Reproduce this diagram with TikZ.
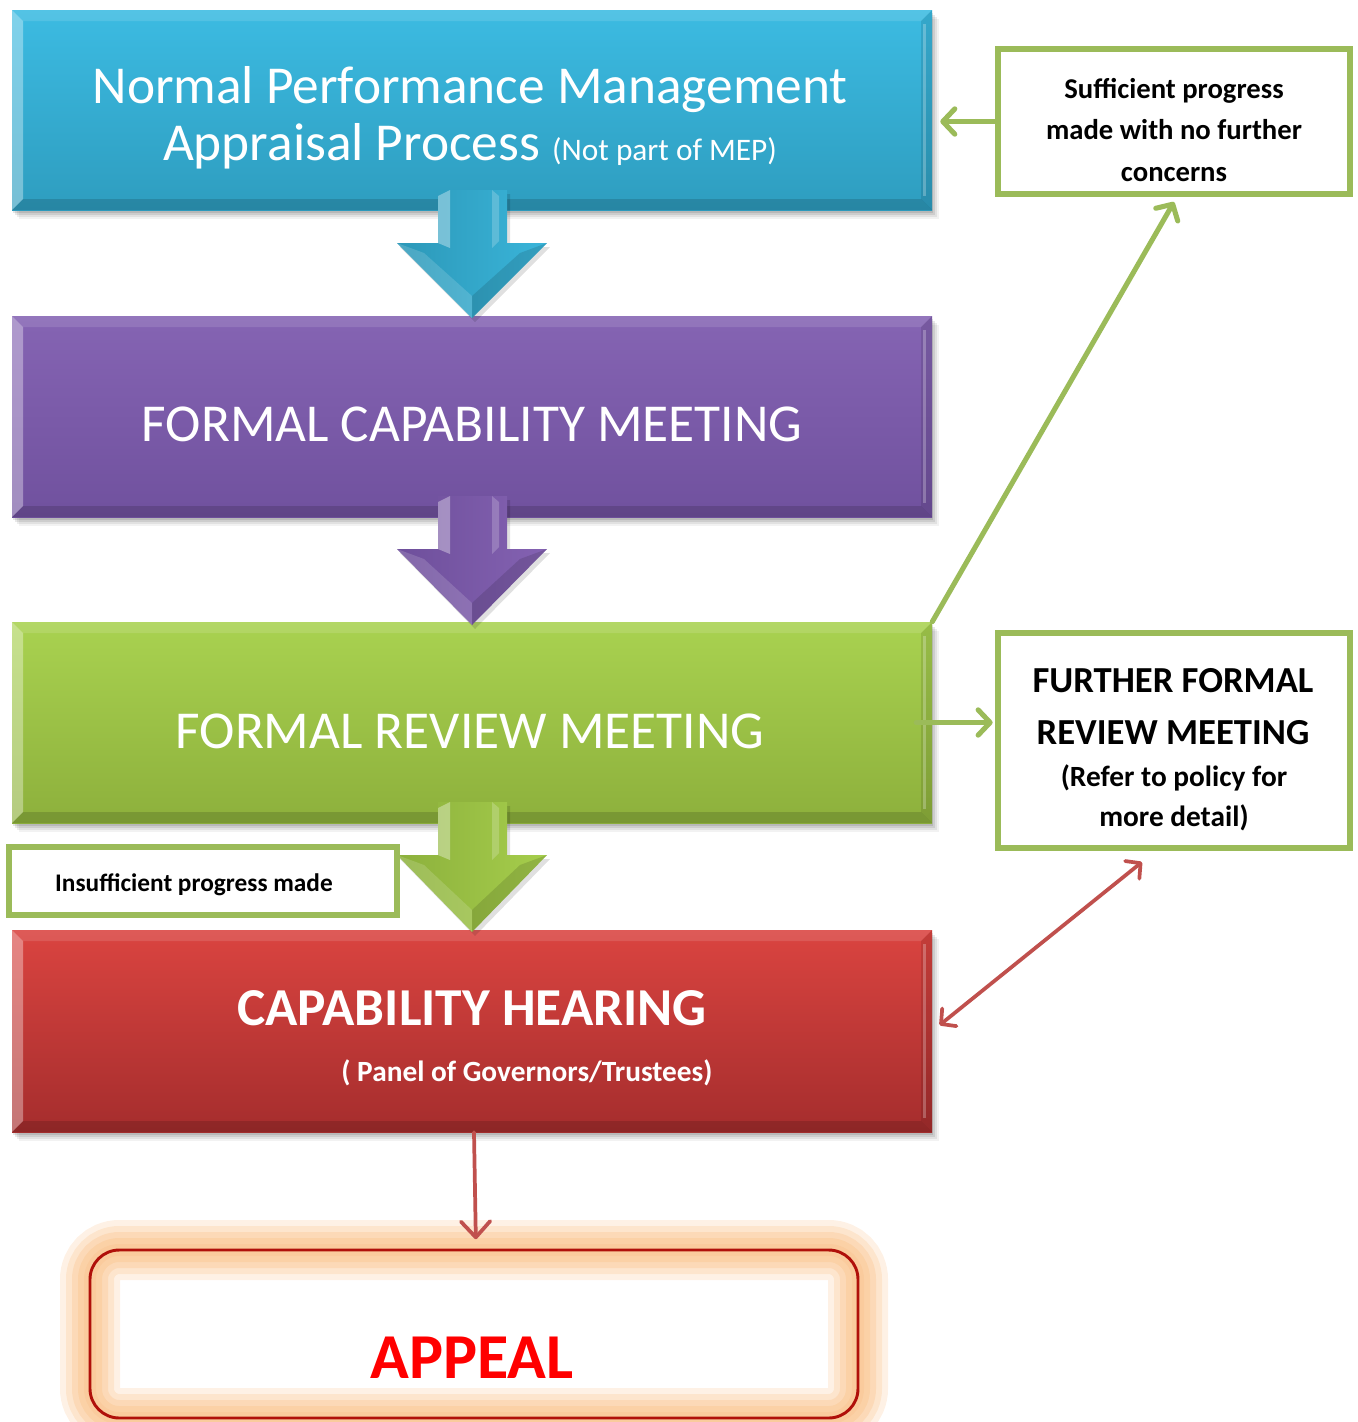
\documentclass[tikz,border=0pt]{standalone}
\usepackage{fontspec}
\setmainfont{Carlito}
\usetikzlibrary{arrows.meta,fit,calc}
\definecolor{gbord}{HTML}{9BBB59}
\definecolor{rarr}{HTML}{C0504D}
\definecolor{glow}{HTML}{FAC896}
\definecolor{bluetop}{HTML}{3CBBE2}
\definecolor{bluebot}{HTML}{2E9DBF}
\definecolor{purtop}{HTML}{8564B3}
\definecolor{purbot}{HTML}{70519E}
\definecolor{grntop}{HTML}{A9D250}
\definecolor{grnbot}{HTML}{8DB03C}
\definecolor{redtop}{HTML}{DA4440}
\definecolor{redbot}{HTML}{A52D2D}
\definecolor{bluea}{HTML}{2C98B8}
\definecolor{blueb}{HTML}{3AB5DA}
\definecolor{pura}{HTML}{6E4F9B}
\definecolor{purb}{HTML}{8462B2}
\definecolor{grna}{HTML}{8CB03C}
\definecolor{grnb}{HTML}{A6CE4C}
\definecolor{appborder}{HTML}{B0100A}
\newcommand\bvbox[6]{%
  \foreach \s/\o in {9/0.05,7/0.07,5/0.09,3/0.1}{\fill[black,opacity=\o] (#1+\s-2,#2+\s) rectangle (#3+\s-2,#4+\s);}
  \shade[top color=#5,bottom color=#6] (#1,#2) rectangle (#3,#4);
  \fill[white,opacity=0.35] (#1,#2) -- (#1+11,#2+11) -- (#1+11,#4-11) -- (#1,#4) -- cycle;
  \fill[white,opacity=0.12] (#1,#2) -- (#3,#2) -- (#3-11,#2+11) -- (#1+11,#2+11) -- cycle;
  \fill[black,opacity=0.10] (#3,#2) -- (#3,#4) -- (#3-11,#4-11) -- (#3-11,#2+11) -- cycle;
  \fill[white,opacity=0.25] (#3-9,#2+14) rectangle (#3-6,#4-14);
  \fill[black,opacity=0.14] (#1,#4) -- (#3,#4) -- (#3-11,#4-11) -- (#1+11,#4-11) -- cycle;
}
\newcommand\bkarrow[5]{% ytop yhead ytip colA colB
  \fill[black,opacity=0.12] (438+3,#1+4) -- (507+3,#1+4) -- (507+3,#2+4) -- (547+3,#2+4) -- (472+3,#3+4) -- (397+3,#2+4) -- (438+3,#2+4) -- cycle;
  \shade[left color=#4,right color=#5] (438,#1) -- (507,#1) -- (507,#2) -- (547,#2) -- (472,#3) -- (397,#2) -- (438,#2) -- cycle;
  \fill[white,opacity=0.35] (438,#1+6) -- (450,#1) -- (450,#2+5) -- (438,#2) -- cycle;
  \fill[white,opacity=0.2] (492,#1) -- (499,#1+6) -- (499,#2-2) -- (492,#2+5) -- cycle;
  \fill[black,opacity=0.12] (472,#3) -- (472,#3-22) -- (520,#2+10) -- (547,#2) -- cycle;
  \fill[white,opacity=0.15] (472,#3) -- (472,#3-22) -- (424,#2+10) -- (397,#2) -- cycle;
}
\begin{document}
\begin{tikzpicture}[x=0.75pt,y=-0.75pt,
  sidebox/.style={draw=gbord,line width=4pt,fill=white,inner sep=0pt},
  gline/.style={draw=gbord,line width=3.8pt,line cap=round,-{Straight Barb[length=9pt,width=19pt,round]}},
  rline/.style={draw=rarr,line width=2.8pt,line cap=round},
  boxtxt/.style={text=white,align=center,font=\fontsize{40}{43}\selectfont}]
\useasboundingbox (0,0) rectangle (1358,1422);
\clip (0,0) rectangle (1358,1422);
% main boxes
\bvbox{12}{10}{932}{210}{bluetop}{bluebot}
\bvbox{12}{316}{932}{517}{purtop}{purbot}
\bvbox{12}{622}{932}{823}{grntop}{grnbot}
\bvbox{12}{930}{932}{1132}{redtop}{redbot}
\node[fit={(12,10) (932,210)},inner sep=0pt] (blue) {};
\node[fit={(12,316) (932,517)},inner sep=0pt] (purple) {};
\node[fit={(12,622) (932,823)},inner sep=0pt] (green) {};
\node[fit={(12,930) (932,1132)},inner sep=0pt] (red) {};
\node[boxtxt] (bluetxt) at (470,118) {Normal Performance Management\\Appraisal Process {\fontsize{23.5}{25}\selectfont(Not part of MEP)}};
\node[boxtxt] (purpletxt) at (472,424) {FORMAL CAPABILITY MEETING};
\node[boxtxt] (greentxt) at (470,731) {FORMAL REVIEW MEETING};
\node[boxtxt,font=\fontsize{40}{43}\selectfont\bfseries] (redtxt) at (472,1008) {CAPABILITY HEARING};
\node[text=white,font=\fontsize{22}{24}\selectfont\bfseries] (paneltxt) at (527,1073) {( Panel of Governors/Trustees)};
% block arrows
\bkarrow{190}{243}{318}{bluea}{blueb}
\bkarrow{496}{549}{625}{pura}{purb}
\bkarrow{802}{855}{932}{grna}{grnb}
% side boxes
\node[sidebox,fit={(998,49) (1350,194)}] (s1) {};
\node[align=center,font=\fontsize{21.5}{31}\selectfont\bfseries] (s1txt) at (1174,130) {Sufficient progress\\made with no further\\concerns};
\node[sidebox,fit={(998,633) (1350,848)}] (s2) {};
\node[align=center,font=\fontsize{27.5}{39}\selectfont\bfseries] (s2a) at (1173,707) {FURTHER FORMAL\\REVIEW MEETING};
\node[align=center,font=\fontsize{22}{30}\selectfont\bfseries] (s2b) at (1174,798) {(Refer to policy for\\more detail)};
\node[sidebox,fit={(9,847) (397,915)}] (ins) {};
\node[font=\fontsize{19}{21}\selectfont\bfseries] (instxt) at (194,885) {Insufficient progress made};
% appeal
\foreach \w/\o in {60/0.25,48/0.3,36/0.4,24/0.5,12/0.6}{
  \draw[glow,line width=\w*0.75pt,opacity=\o,rounded corners=22pt] (90,1250) rectangle (858,1418);}
\node[fit={(90,1250) (858,1418)},inner sep=0pt,draw=appborder,line width=2.2pt,rounded corners=22pt] (appeal) {};
\node[text=red,font=\fontsize{48}{50}\selectfont\bfseries] (appealtxt) at (472,1358) {APPEAL};
% connectors
\draw[gline] (s1.west) -- ([xshift=6pt]s1.west -| blue.east);
\draw[gline] (green.north east) -- ([yshift=-4pt]s1.south);
\draw[gline] ([xshift=-12pt]green.east) -- ([xshift=-2pt]green.east -| s2.west);
\coordinate (rtip) at (1142,862);
\draw[rline,{Straight Barb[length=8pt,width=17pt,round]}-{Straight Barb[length=8pt,width=17pt,round]},shorten <=7pt] (red.east) -- (rtip);
\draw[rline,-{Straight Barb[length=12pt,width=22pt,round]},shorten >=7pt] ([xshift=1.5pt]red.south) -- ([xshift=1.5pt]appeal.north);
\end{tikzpicture}
\end{document}
